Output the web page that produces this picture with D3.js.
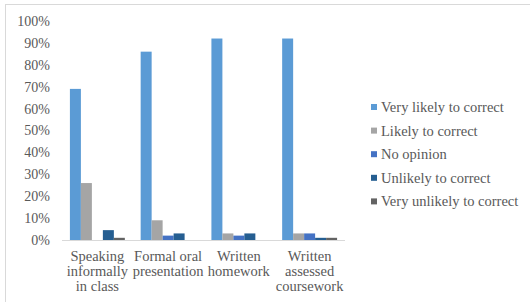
<!DOCTYPE html>
<html>
<head>
<meta charset="utf-8">
<script src="https://cdn.jsdelivr.net/npm/d3@7"></script>
<style>
  body { margin: 0; background: #fff; }
  svg { display: block; }
  svg text { font-family: 'Liberation Serif', 'Times New Roman', serif; }
</style>
</head>
<body>
<div id="chart"></div>
<script>
const categories = [
  ['Speaking', 'informally', 'in class'],
  ['Formal oral', 'presentation'],
  ['Written', 'homework'],
  ['Written', 'assessed', 'coursework'],
];
const seriesNames = [
  'Very likely to correct',
  'Likely to correct',
  'No opinion',
  'Unlikely to correct',
  'Very unlikely to correct',
];
const veryLikely = [0.69, 0.86, 0.92, 0.92];
const likely = [0.26, 0.09, 0.03, 0.03];
const noOpinion = [0, 0.02, 0.02, 0.03];
const unlikely = [0.045, 0.03, 0.03, 0.01];
const veryUnlikely = [0.01, 0, 0, 0.01];
const yTicks = [0, 0.1, 0.2, 0.3, 0.4, 0.5, 0.6, 0.7, 0.8, 0.9, 1];

const colors = ['#5b9bd5', '#a5a5a5', '#4472c4', '#255e91', '#636363'];
const series = [veryLikely, likely, noOpinion, unlikely, veryUnlikely];

const width = 530;
const height = 302;
const plot = { left: 62, right: 345, top: 21, bottom: 240 };
const textColor = '#595959';

const svg = d3.select('#chart')
  .append('svg')
  .attr('width', width)
  .attr('height', height);

svg.append('rect')
  .attr('x', 5.5)
  .attr('y', 4.5)
  .attr('width', width)
  .attr('height', height)
  .attr('fill', '#fff')
  .attr('stroke', '#d9d9d9');

const x0 = d3.scaleBand()
  .domain(d3.range(categories.length))
  .range([plot.left, plot.right])
  .paddingInner(0)
  .paddingOuter(0);

const x1 = d3.scaleBand()
  .domain(d3.range(series.length))
  .range([0, x0.bandwidth()])
  .paddingOuter(0.72)
  .paddingInner(0);

const y = d3.scaleLinear()
  .domain([0, 1])
  .range([plot.bottom, plot.top]);

// y tick labels (no gridlines)
svg.append('g')
  .selectAll('text')
  .data(yTicks)
  .join('text')
  .attr('x', 50)
  .attr('y', (d) => y(d))
  .attr('dy', '0.35em')
  .attr('text-anchor', 'end')
  .attr('font-size', 14)
  .attr('fill', textColor)
  .text(d3.format('.0%'));

// bars
const groups = svg.append('g')
  .selectAll('g')
  .data(categories.map((c, i) => i))
  .join('g')
  .attr('transform', (i) => `translate(${x0(i)},0)`);

groups.selectAll('rect')
  .data((i) => series.map((s, k) => ({ k, v: s[i] })))
  .join('rect')
  .attr('x', (d) => x1(d.k))
  .attr('y', (d) => y(d.v))
  .attr('width', x1.bandwidth())
  .attr('height', (d) => plot.bottom - y(d.v))
  .attr('fill', (d) => colors[d.k]);

// baseline
svg.append('line')
  .attr('x1', plot.left)
  .attr('x2', plot.right)
  .attr('y1', plot.bottom + 0.5)
  .attr('y2', plot.bottom + 0.5)
  .attr('stroke', '#d9d9d9');

// category labels
const catLabels = svg.append('g')
  .selectAll('text')
  .data(categories)
  .join('text')
  .attr('text-anchor', 'middle')
  .attr('font-size', 14.5)
  .attr('fill', textColor);

catLabels.selectAll('tspan')
  .data((lines, i) => lines.map((t) => ({ t, i })))
  .join('tspan')
  .attr('x', (d) => x0(d.i) + x0.bandwidth() / 2)
  .attr('y', (d, j) => 261 + j * 15)
  .text((d) => d.t);

// legend
const legend = svg.append('g')
  .selectAll('g')
  .data(seriesNames)
  .join('g')
  .attr('transform', (d, i) => `translate(371,${107 + i * 23.6})`);

legend.append('rect')
  .attr('x', 0)
  .attr('y', -3)
  .attr('width', 6)
  .attr('height', 6)
  .attr('fill', (d, i) => colors[i]);

legend.append('text')
  .attr('x', 10)
  .attr('dy', '0.35em')
  .attr('font-size', 14.5)
  .attr('fill', textColor)
  .text((d) => d);
</script>
</body>
</html>
